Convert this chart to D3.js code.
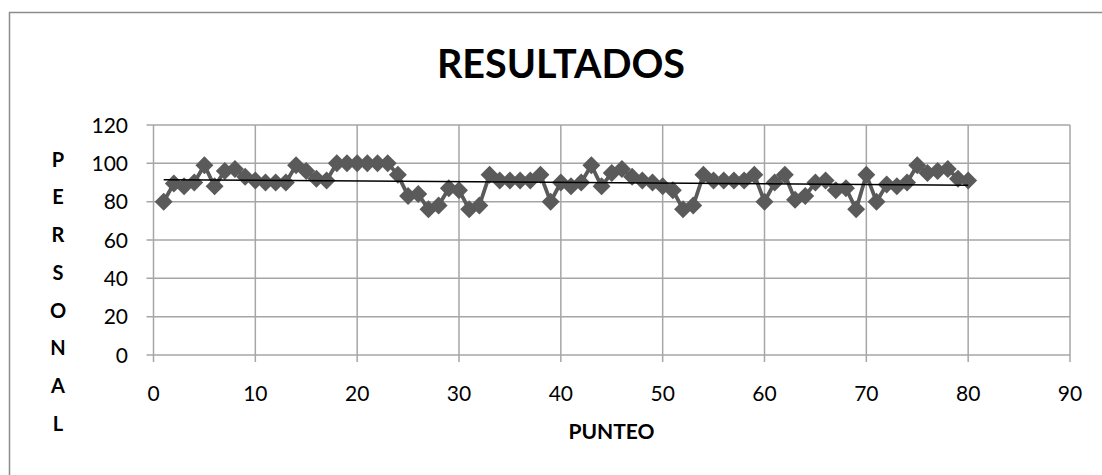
<!DOCTYPE html>
<html><head><meta charset="utf-8">
<script src="https://cdn.jsdelivr.net/npm/d3@7/dist/d3.min.js"></script>
<style>body{margin:0;background:#fff}svg{display:block}</style>
</head><body>
<svg id="c" width="1102" height="475"></svg>
<script>
const punteo = [1,2,3,4,5,6,7,8,9,10,11,12,13,14,15,16,17,18,19,20,21,22,23,24,25,26,27,28,29,30,31,32,33,34,35,36,37,38,39,40,41,42,43,44,45,46,47,48,49,50,51,52,53,54,55,56,57,58,59,60,61,62,63,64,65,66,67,68,69,70,71,72,73,74,75,76,77,78,79,80];
const personal = [80,89.5,88,90,99,88,96,97,93,91,90,90,90,99,96,92,91,100,100,100,100,100,100,94,83,84,76,78,87,86,76,78,94,91,91,91,91,94,80,90,88,90,99,88,95,97,93,91,90,88,86,76,78,94,91,91,91,91,94,80,90,94,81,83,90,91,86,87,76,94,80,89,88,90,99,95,96,97,92,91];
const xTicks = [0,10,20,30,40,50,60,70,80,90];
const yTicks = [0,20,40,60,80,100,120];
const title = "RESULTADOS";
const xTitle = "PUNTEO";
const yTitle = "PERSONAL";

const svg = d3.select("#c");
svg.append("rect").attr("x",9.5).attr("y",12.5).attr("width",1200).attr("height",600)
  .attr("fill","none").attr("stroke","#8c8c8c").attr("stroke-width",1.5);

const x = d3.scaleLinear().domain([0,90]).range([153.5,1070]);
const y = d3.scaleLinear().domain([0,120]).range([355,125]);
const grid = "#a6a6a6";

svg.append("g").selectAll("line").data(yTicks).join("line")
  .attr("x1",x(0)-7).attr("x2",x(90)).attr("y1",d=>y(d)).attr("y2",d=>y(d))
  .attr("stroke",grid).attr("stroke-width",1.5);
svg.append("g").selectAll("line").data(xTicks).join("line")
  .attr("x1",d=>x(d)).attr("x2",d=>x(d)).attr("y1",y(120)).attr("y2",y(0)+7)
  .attr("stroke",grid).attr("stroke-width",1.5);

const font = "Lato, 'Open Sans', sans-serif";
svg.append("g").selectAll("text").data(yTicks).join("text")
  .attr("x",128).attr("y",d=>y(d)+7.6).attr("text-anchor","end")
  .attr("font-family",font).attr("font-size",21).attr("fill","#000").text(d=>d);
svg.append("g").selectAll("text").data(xTicks).join("text")
  .attr("x",d=>x(d)).attr("y",400.5).attr("text-anchor","middle")
  .attr("font-family",font).attr("font-size",21).attr("fill","#000").text(d=>d);

const line = d3.line().x((d,i)=>x(punteo[i])).y(d=>y(d));
svg.append("path").datum(personal).attr("d",line).attr("fill","none")
  .attr("stroke","#5a5a5a").attr("stroke-width",3.8).attr("stroke-linejoin","round");

const sym = d3.symbol().type(d3.symbolDiamond2).size(205);
svg.append("g").selectAll("path").data(personal).join("path")
  .attr("transform",(d,i)=>`translate(${x(punteo[i])},${y(d)})`)
  .attr("d",sym).attr("fill","#5a5a5a");

const n = punteo.length;
const mx = d3.mean(punteo), my = d3.mean(personal);
let sxy=0,sxx=0;
for(let i=0;i<n;i++){sxy+=(punteo[i]-mx)*(personal[i]-my);sxx+=(punteo[i]-mx)**2;}
const b = sxy/sxx, a = my-b*mx;
const x0 = d3.min(punteo), x1 = d3.max(punteo);
svg.append("line").attr("x1",x(x0)).attr("x2",x(x1)).attr("y1",y(a+b*x0)).attr("y2",y(a+b*x1))
  .attr("stroke","#000").attr("stroke-width",1.5);

svg.append("text").attr("x",561).attr("y",78.3).attr("text-anchor","middle")
  .attr("font-family",font).attr("font-weight","bold").attr("font-size",39.5).attr("fill","#000").text(title);
svg.append("text").attr("x",611.5).attr("y",439).attr("text-anchor","middle")
  .attr("font-family",font).attr("font-weight","bold").attr("font-size",21).attr("fill","#000").text(xTitle);
svg.append("g").selectAll("text").data(yTitle.split("")).join("text")
  .attr("x",58).attr("y",(d,i)=>166.7+i*37.7).attr("text-anchor","middle")
  .attr("font-family",font).attr("font-weight","bold").attr("font-size",20).attr("fill","#000").text(d=>d);
</script>
</body></html>
